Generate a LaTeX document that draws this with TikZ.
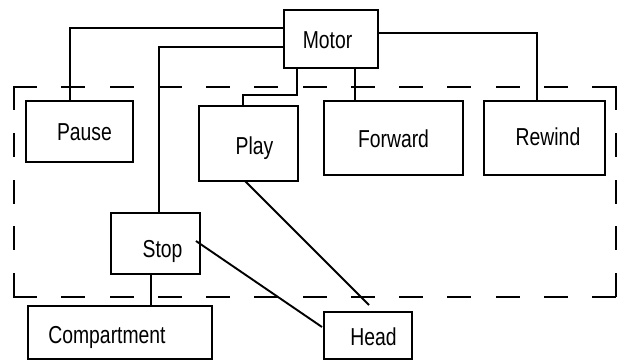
\documentclass[tikz,border=0pt]{standalone}
\usepackage{fontspec}
\setmainfont{Liberation Sans}[FakeStretch=0.79]
\begin{document}
\begin{tikzpicture}[x=1pt,y=-1pt,
  box/.style={draw, line width=2pt, inner sep=0pt, outer sep=0pt, rectangle},
  lbl/.style={inner sep=0pt, anchor=base, font=\fontsize{24.5}{27}\selectfont},
  wire/.style={line width=1.9pt},
  grph/.style={line width=2pt, line cap=rect, dash pattern=on 22pt off 26.25pt},
  grpv/.style={line width=2pt, line cap=rect, dash pattern=on 22pt off 24.75pt}]
\useasboundingbox (0,0) rectangle (620,362);
% group frame
\coordinate (gTL) at (14,87);
\coordinate (gTR) at (616,87);
\coordinate (gBL) at (14,297);
\coordinate (gBR) at (616,297);
\draw[grph] (gTL) -- (gTR);
\draw[grph] (gBL) -- (gBR);
\draw[grpv] (gTL) -- (gBL);
\draw[grpv] (gTR) -- (gBR);
% boxes
\node[box, minimum width=94pt, minimum height=58pt] (Motor) at (331,39) {};
\node[box, minimum width=107pt, minimum height=61pt] (Pause) at (79.5,131.5) {};
\node[box, minimum width=99pt, minimum height=75pt] (Play) at (248.5,143.5) {};
\node[box, minimum width=139pt, minimum height=74pt] (Forward) at (393.5,138) {};
\node[box, minimum width=121pt, minimum height=74pt] (Rewind) at (544.5,138) {};
\node[box, minimum width=89pt, minimum height=61pt] (Stop) at (155.5,243.5) {};
\node[box, minimum width=184pt, minimum height=53pt] (Compartment) at (120,332.5) {};
\node[box, minimum width=88pt, minimum height=47pt] (Head) at (368,335.5) {};
% texts
\node[lbl] (tMotor) at (327.5,48.5) {Motor};
\node[lbl] (tPause) at (84.5,140) {Pause};
\node[lbl] (tPlay) at (254.5,154) {Play};
\node[lbl] (tForward) at (393.5,147) {Forward};
\node[lbl] (tRewind) at (548,145) {Rewind};
\node[lbl] (tStop) at (162.5,257) {Stop};
\node[lbl] (tCompartment) at (107,343) {Compartment};
\node[lbl] (tHead) at (373.5,345) {Head};
% connectors
\draw[wire] ([yshift=11pt]Motor.west) -| ([xshift=-9.5pt]Pause.north);
\draw[wire] ([yshift=-8pt]Motor.west) -| ([xshift=3.5pt]Stop.north);
\draw[wire] ([xshift=-34pt]Motor.south) -- ++(0,27) -| ([xshift=-5.5pt]Play.north);
\draw[wire] ([xshift=24pt]Motor.south) -- ([xshift=24pt]Motor.south |- Forward.north);
\draw[wire] ([yshift=6pt]Motor.east) -| ([xshift=-7.5pt]Rewind.north);
\draw[wire] ([xshift=-4.5pt]Stop.south) -- ([xshift=-4.5pt]Stop.south |- Compartment.north);
\draw[wire] ([xshift=40.5pt,yshift=2.5pt]Stop.center) -- ([xshift=-46pt,yshift=8.5pt]Head.center);
\draw[wire] ([xshift=-3.5pt]Play.south) -- ([xshift=1pt,yshift=7pt]Head.north);
\end{tikzpicture}
\end{document}
